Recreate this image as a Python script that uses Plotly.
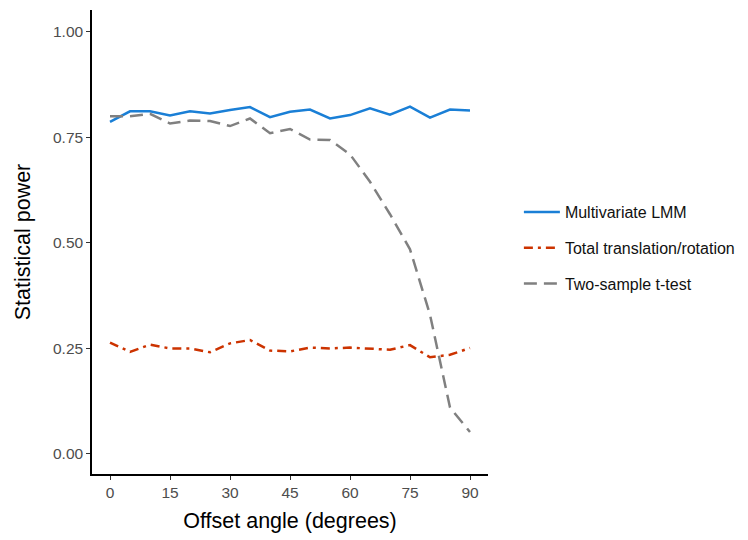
import plotly.graph_objects as go

angles = [0, 5, 10, 15, 20, 25, 30, 35, 40, 45, 50, 55, 60, 65, 70, 75, 80, 85, 90]
lmm = [0.787, 0.812, 0.812, 0.802, 0.812, 0.807, 0.815, 0.822, 0.798, 0.811, 0.816, 0.795, 0.803, 0.819, 0.804, 0.823, 0.797, 0.816, 0.814]
total = [0.264, 0.242, 0.259, 0.250, 0.250, 0.241, 0.262, 0.270, 0.245, 0.243, 0.252, 0.250, 0.252, 0.249, 0.247, 0.258, 0.229, 0.235, 0.251]
ttest = [0.800, 0.800, 0.806, 0.783, 0.790, 0.789, 0.777, 0.795, 0.760, 0.770, 0.745, 0.744, 0.710, 0.645, 0.568, 0.485, 0.330, 0.110, 0.052]

names = ["Multivariate LMM", "Total translation/rotation", "Two-sample t-test"]
colors = ["#1a7fd6", "#cc3300", "#808080"]
dashes = ["solid", "9px,5px,3px,5px", "13px,7px"]
series = [lmm, total, ttest]

fig = go.Figure()
for n, c, d, s in zip(names, colors, dashes, series):
    fig.add_trace(go.Scatter(x=angles, y=s, mode="lines", name=n, legendgroup=n,
                             line=dict(color=c, width=2.5, dash=d)))

fig.update_layout(
    width=748, height=540,
    margin=dict(l=84, r=268, t=2, b=74),
    plot_bgcolor="white", paper_bgcolor="white",
    font=dict(family="Liberation Sans, Arial, sans-serif"),
    showlegend=True,
    legend=dict(x=1.078, y=0.487, xanchor="left", yanchor="middle",
                font=dict(size=16, color="#111111"), itemwidth=36,
                tracegroupgap=12),
)
fig.update_xaxes(range=[-4.5, 94.5], tickvals=[0, 15, 30, 45, 60, 75, 90],
                 showgrid=False, zeroline=False, showline=True, linecolor="black",
                 linewidth=1.5, ticks="outside", ticklen=4, tickcolor="#333333",
                 tickfont=dict(size=15.5, color="#4d4d4d"),
                 title=dict(text="Offset angle (degrees)", font=dict(size=21.5, color="black"), standoff=13))
fig.update_yaxes(range=[-0.0475, 1.052], tickvals=[0, 0.25, 0.5, 0.75, 1.0],
                 ticktext=["0.00", "0.25", "0.50", "0.75", "1.00"],
                 showgrid=False, zeroline=False, showline=True, linecolor="black",
                 linewidth=1.5, ticks="outside", ticklen=4, tickcolor="#333333",
                 tickfont=dict(size=15.5, color="#4d4d4d"),
                 title=dict(text="Statistical power", font=dict(size=21.5, color="black"), standoff=16))

fig.write_html("out.html")
